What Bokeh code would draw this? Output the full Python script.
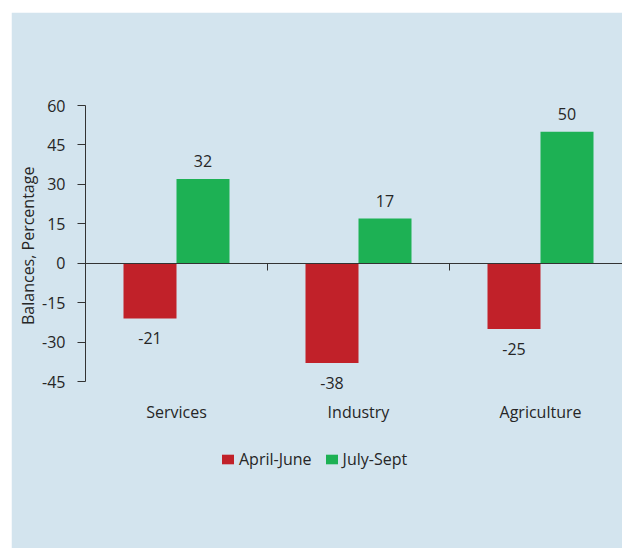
from bokeh.plotting import figure
from bokeh.models import (ColumnDataSource, FixedTicker, LinearAxis, Range1d,
                          LabelSet, Legend, LegendItem, Title)
from bokeh.core.properties import value
from bokeh.embed import file_html
from bokeh.resources import INLINE

# Survey balances by sector
categories = ["Services", "Industry", "Agriculture"]
april_june = [-21, -38, -25]
july_sept = [32, 17, 50]
series_names = ["April-June", "July-Sept"]
y_ticks = [60, 45, 30, 15, 0, -15, -30, -45]
y_title = "Balances, Percentage"

BG = "#d3e4ee"
RED = "#c12129"
GREEN = "#1db154"
TEXT = "#262626"
AXIS = "#333333"
FONT = "Open Sans"
FS = "16px"

W, H = 611, 536
LEFT, TOP = 74, 93          # frame offsets inside the figure
AXIS_PX = 276               # pixel height of the -45..60 axis
CAT_PX = 182                # pixel width of one category slot
TITLE_PX = 163              # approximate length of the vertical title

y_top, y_low = y_ticks[0], y_ticks[-1]
frame_h = H - TOP
y_bottom = y_top - (y_top - y_low) * frame_h / AXIS_PX

centers = [i + 1 for i in range(len(categories))]
bar_w = 53 / CAT_PX
red_x = [c - bar_w / 2 for c in centers]
green_x = [c + bar_w / 2 for c in centers]

p = figure(width=W, height=H, output_backend="svg", toolbar_location=None,
           x_range=Range1d(0.5, 0.5 + (W - LEFT) / CAT_PX),
           y_range=Range1d(y_bottom, y_top),
           x_axis_location=None, min_border_left=LEFT, min_border_right=0,
           min_border_top=TOP, min_border_bottom=0)
p.margin = (12, 0, 0, 11)
p.background_fill_color = BG
p.border_fill_color = BG
# same-colour outline hides the seam between frame and border fills
p.outline_line_color = BG
p.outline_line_width = 2
p.grid.visible = False

src_red = ColumnDataSource(dict(x=red_x, top=april_june))
src_green = ColumnDataSource(dict(x=green_x, top=july_sept))
r_red = p.vbar(x="x", top="top", bottom=0, width=bar_w, source=src_red,
               fill_color=RED, line_color=None)
r_green = p.vbar(x="x", top="top", bottom=0, width=bar_w, source=src_green,
                 fill_color=GREEN, line_color=None)

# value labels above positive bars, below negative ones
lab_x = red_x + green_x
lab_y = april_june + july_sept
lab_src = ColumnDataSource(dict(
    x=lab_x, y=lab_y, text=[str(v) for v in lab_y],
    off=[18 if v > 0 else -20 for v in lab_y]))
p.add_layout(LabelSet(x="x", y="y", text="text", y_offset="off", source=lab_src,
                      text_align="center", text_baseline="middle",
                      text_font=value(FONT), text_font_size=FS,
                      text_color=TEXT))

# category names beneath the axis range
cat_src = ColumnDataSource(dict(x=centers, y=[y_low] * len(centers),
                                text=categories))
p.add_layout(LabelSet(x="x", y="y", text="text", y_offset=-30, source=cat_src,
                      text_align="center", text_baseline="middle",
                      text_font=value(FONT), text_font_size=FS,
                      text_color=TEXT))

# y axis, drawn only over the labelled range
ya = p.yaxis[0]
ya.bounds = (y_low, y_top)
ya.ticker = FixedTicker(ticks=y_ticks)
ya.major_label_overrides = {v: str(v) for v in y_ticks}
ya.minor_tick_line_color = None
ya.major_tick_in = 0
ya.major_tick_out = 8
ya.major_label_standoff = 12
ya.axis_line_color = AXIS
ya.major_tick_line_color = AXIS
ya.major_label_text_font = FONT
ya.major_label_text_font_size = FS
ya.major_label_text_color = TEXT

# vertical axis title, centred on the -45..60 span (offset counts up from
# the bottom of the frame)
title_start = AXIS_PX / 2 + TITLE_PX / 2
p.add_layout(Title(text=y_title, align="left", offset=frame_h - title_start,
                   standoff=2, text_font=FONT, text_font_size=FS,
                   text_font_style="normal", text_color=TEXT), "left")

# zero line with downward separators between categories
za = LinearAxis(fixed_location=0,
                ticker=FixedTicker(ticks=[c + 0.5 for c in centers[:-1]]))
za.axis_line_color = AXIS
za.major_tick_line_color = AXIS
za.major_tick_in = 7
za.major_tick_out = 0
za.minor_tick_line_color = None
za.major_label_text_font_size = "0px"
p.add_layout(za, "above")

legend = Legend(items=[LegendItem(label=series_names[0], renderers=[r_red]),
                       LegendItem(label=series_names[1], renderers=[r_green])],
                location=(135, 78), orientation="horizontal",
                background_fill_alpha=0, border_line_color=None,
                glyph_width=15, glyph_height=12, label_standoff=4, spacing=12,
                padding=0, margin=0, label_text_font=FONT,
                label_text_font_size=FS, label_text_color=TEXT)
p.add_layout(legend)

open("out.html", "w").write(file_html(p, INLINE))
